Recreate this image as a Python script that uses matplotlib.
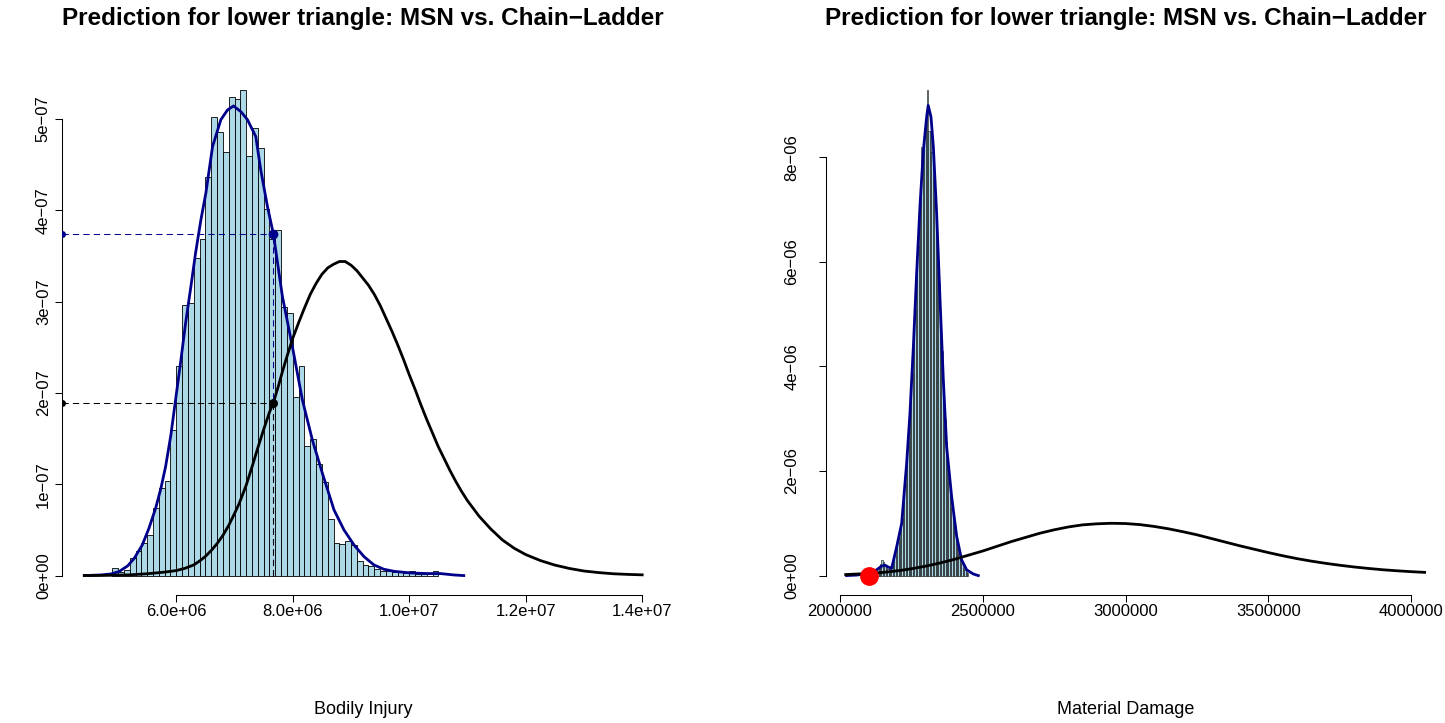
import numpy as np
import matplotlib
matplotlib.use("Agg")
import matplotlib.pyplot as plt

plt.rcParams['font.family'] = ['Liberation Sans', 'DejaVu Sans']

MINUS = '\u2212'
title = 'Prediction for lower triangle: MSN vs. Chain' + MINUS + 'Ladder'

# ---- Bodily Injury (left panel) ----
bi_bin_start = 4.9e6
bi_bin_width = 1e5
# histogram density, in 1e-8
bi_hist = [0.8, 0.4, 0.6, 1.9, 2.7, 3.6, 4.4, 7.4, 9.6, 10.4,
           16.0, 23.0, 29.6, 29.9, 34.8, 36.9, 43.7, 50.2, 48.6, 46.4,
           52.4, 52.2, 53.2, 46.0, 49.0, 46.8, 40.2, 36.9, 37.8, 29.4,
           28.8, 19.6, 23.0, 14.2, 15.0, 12.2, 10.2, 6.2, 3.6, 3.5,
           3.8, 3.4, 1.6, 1.2, 1.0, 0.7, 0.55, 0.5, 0.35, 0.45,
           0.3, 0.45, 0.15, 0.15, 0.0, 0.45]
# MSN kernel density (x in 1e6, y in 1e-8)
bi_msn_x = [4.420, 4.706, 4.879, 5.016, 5.165, 5.279, 5.416, 5.530, 5.645, 5.736,
            5.816, 5.907, 5.987, 6.079, 6.159, 6.250, 6.330, 6.422, 6.507, 6.622,
            6.765, 6.879, 6.982, 7.108, 7.222, 7.365, 7.450, 7.565, 7.667, 7.822,
            7.993, 8.165, 8.336, 8.508, 8.708, 8.879, 9.051, 9.222, 9.393, 9.565,
            9.736, 10.022, 10.308, 10.536, 10.765, 10.936]
bi_msn_y = [0.0, 0.07, 0.18, 0.44, 1.06, 1.90, 3.36, 5.18, 7.38, 9.57,
            11.94, 15.41, 19.24, 23.62, 27.64, 31.65, 35.31, 38.96, 41.88, 46.99,
            49.93, 51.00, 51.44, 50.82, 49.93, 48.08, 44.43, 40.42, 37.39, 30.56,
            25.08, 19.24, 14.86, 11.21, 7.19, 5.00, 3.36, 2.08, 1.17, 0.69,
            0.47, 0.29, 0.22, 0.22, 0.07, 0.0]
# Chain-Ladder density (x in 1e6, y in 1e-8)
bi_cl_x = [4.42, 4.8, 5.2, 5.5, 5.8, 6.0, 6.15, 6.3, 6.4, 6.5,
           6.6, 6.7, 6.8, 6.9, 7.0, 7.08, 7.2, 7.3, 7.4, 7.5,
           7.6, 7.667, 7.75, 7.82, 7.9, 8.0, 8.1, 8.2, 8.3, 8.4,
           8.5, 8.6, 8.7, 8.8, 8.9, 9.0, 9.1, 9.2, 9.3, 9.4,
           9.5, 9.6, 9.7, 9.8, 9.9, 10.0, 10.1, 10.2, 10.3, 10.4,
           10.5, 10.6, 10.7, 10.8, 10.9, 11.0, 11.2, 11.4, 11.6, 11.8,
           12.0, 12.25, 12.5, 12.75, 13.0, 13.25, 13.5, 13.75, 14.0]
bi_cl_y = [0.0, 0.02, 0.08, 0.2, 0.38, 0.55, 0.8, 1.17, 1.6, 2.1,
           2.75, 3.5, 4.4, 5.5, 6.8, 7.9, 9.9, 11.9, 14.0, 16.0,
           17.9, 18.95, 20.7, 22.3, 24.0, 26.0, 27.7, 29.3, 30.8, 32.0,
           33.0, 33.7, 34.1, 34.4, 34.4, 34.0, 33.4, 32.6, 31.8, 30.8,
           29.6, 28.2, 26.8, 25.3, 23.7, 22.0, 20.4, 18.7, 17.1, 15.6,
           14.1, 12.8, 11.5, 10.3, 9.2, 8.2, 6.5, 5.1, 3.9, 3.0,
           2.3, 1.65, 1.15, 0.78, 0.5, 0.33, 0.2, 0.13, 0.08]
bi_obs = 7.667e6
bi_obs_msn = 3.739e-7
bi_obs_cl = 1.895e-7

# ---- Material Damage (right panel) ----
md_bin_start = 2.125e6
md_bin_width = 5e3
# histogram density, in 1e-6
md_hist = [0.10, 0.13, 0.18, 0.22, 0.30, 0.26, 0.20, 0.16, 0.13, 0.12,
           0.18, 0.22, 0.32, 0.40, 0.55, 0.64, 0.72, 0.90, 1.10, 1.45,
           1.75, 2.10, 2.55, 2.95, 3.45, 3.85, 4.45, 5.10, 5.75, 6.30,
           6.85, 7.45, 8.20, 8.20, 8.55, 8.70, 9.29, 8.50, 8.50, 8.10,
           7.60, 7.20, 6.95, 6.00, 5.60, 4.80, 4.30, 3.50, 3.00, 2.55,
           2.10, 1.85, 1.55, 1.30, 1.10, 0.95, 0.75, 0.55, 0.42, 0.30,
           0.22, 0.15, 0.10, 0.06, 0.04]
md_msn_x = [2.023, 2.06, 2.10, 2.1285, 2.145, 2.1576, 2.17, 2.181, 2.1985, 2.216,
            2.2335, 2.245, 2.257, 2.2685, 2.280, 2.292, 2.3035, 2.309, 2.3187, 2.327,
            2.3386, 2.350, 2.362, 2.3736, 2.391, 2.4087, 2.426, 2.4437, 2.467, 2.4845]
md_msn_y = [0.0, 0.01, 0.05, 0.11, 0.18, 0.20, 0.16, 0.14, 0.55, 1.00,
            2.15, 3.10, 4.38, 5.78, 7.05, 8.13, 8.77, 8.99, 8.77, 8.20,
            6.92, 5.33, 3.74, 2.46, 1.51, 0.75, 0.30, 0.11, 0.03, 0.0]
md_cl_x = [2.02, 2.1, 2.15, 2.2, 2.25, 2.3, 2.35, 2.4, 2.45, 2.5,
           2.55, 2.6, 2.65, 2.7, 2.75, 2.8, 2.85, 2.9, 2.95, 3.0,
           3.05, 3.1, 3.15, 3.2, 3.25, 3.3, 3.35, 3.4, 3.45, 3.5,
           3.55, 3.6, 3.65, 3.7, 3.75, 3.8, 3.85, 3.9, 3.95, 4.0,
           4.05, 4.1, 4.15, 4.2]
md_cl_y = [0.02, 0.04, 0.06, 0.09, 0.13, 0.18, 0.24, 0.31, 0.39, 0.47,
           0.56, 0.65, 0.73, 0.81, 0.875, 0.93, 0.97, 0.99, 1.0, 0.995,
           0.975, 0.94, 0.895, 0.84, 0.78, 0.71, 0.64, 0.57, 0.505, 0.44,
           0.38, 0.325, 0.277, 0.235, 0.198, 0.165, 0.137, 0.112, 0.092, 0.075,
           0.061, 0.049, 0.039, 0.031]
md_obs = 2.1e6

W, H = 1445, 723
fig = plt.figure(figsize=(W / 100, H / 100), dpi=100)


def axes_px(left, top, right, bottom):
    return fig.add_axes([left / W, 1 - bottom / H, (right - left) / W, (bottom - top) / H])


def r_axes(ax, xt, xl, yt, yl, ypad=3):
    for s in ['top', 'right']:
        ax.spines[s].set_visible(False)
    for s in ['left', 'bottom']:
        ax.spines[s].set_linewidth(0.75)
    ax.spines['left'].set_bounds(yt[0], yt[-1])
    ax.spines['bottom'].set_bounds(xt[0], xt[-1])
    ax.set_xticks(xt)
    ax.set_xticklabels(xl)
    ax.set_yticks(yt)
    ax.set_yticklabels(yl, rotation=90, va='center')
    ax.tick_params(length=5, width=0.75, labelsize=12)
    ax.tick_params(axis='x', pad=1.5)
    ax.tick_params(axis='y', pad=ypad)


blue = '#00008B'
dash = (0, (6, 4))

# left panel
ax1 = axes_px(62, 70.7, 664.5, 595)
bi_edges = bi_bin_start + bi_bin_width * np.arange(len(bi_hist))
ax1.bar(bi_edges, np.array(bi_hist) * 1e-8, width=bi_bin_width, align='edge',
        color='#ADD8E6', edgecolor='black', linewidth=0.6, zorder=1)
ax1.plot(np.array(bi_msn_x) * 1e6, np.array(bi_msn_y) * 1e-8, color=blue, lw=2, zorder=3)
ax1.plot(np.array(bi_cl_x) * 1e6, np.array(bi_cl_y) * 1e-8, color='black', lw=2, zorder=3)
ax1.set_xlim(4.037e6, 14.383e6)
ax1.set_ylim(-0.2127e-7, 5.530e-7)
x0 = ax1.get_xlim()[0]
ax1.plot([x0, bi_obs], [bi_obs_msn, bi_obs_msn], color=blue, lw=0.75, ls=dash, zorder=4)
ax1.plot([x0, bi_obs], [bi_obs_cl, bi_obs_cl], color='black', lw=0.75, ls=dash, zorder=4)
ax1.plot([bi_obs, bi_obs], [0, bi_obs_msn], color=blue, lw=0.75, ls=dash, zorder=4)
ax1.plot([bi_obs, bi_obs], [0, bi_obs_cl], color='black', lw=0.75, ls=dash, zorder=4)
ax1.plot(bi_obs, bi_obs_msn, 'o', color=blue, ms=6, zorder=5)
ax1.plot(bi_obs, bi_obs_cl, 'o', color='black', ms=5.5, zorder=5)
ax1.plot(x0, bi_obs_msn, 'o', color=blue, ms=4, zorder=5)
ax1.plot(x0, bi_obs_cl, 'o', color='black', ms=4, zorder=5)
r_axes(ax1, [6e6, 8e6, 1e7, 1.2e7, 1.4e7],
       ['6.0e+06', '8.0e+06', '1.0e+07', '1.2e+07', '1.4e+07'],
       [0, 1e-7, 2e-7, 3e-7, 4e-7, 5e-7],
       ['0e+00', '1e' + MINUS + '07', '2e' + MINUS + '07', '3e' + MINUS + '07',
        '4e' + MINUS + '07', '5e' + MINUS + '07'])

# right panel
ax2 = axes_px(826, 70.7, 1426, 595)
md_edges = md_bin_start + md_bin_width * np.arange(len(md_hist))
ax2.bar(md_edges, np.array(md_hist) * 1e-6, width=md_bin_width, align='edge',
        color='#ADD8E6', edgecolor='black', linewidth=0.4, zorder=1)
ax2.plot(np.array(md_msn_x) * 1e6, np.array(md_msn_y) * 1e-6, color=blue, lw=2, zorder=3)
ax2.plot(np.array(md_cl_x) * 1e6, np.array(md_cl_y) * 1e-6, color='black', lw=2, zorder=3)
ax2.plot(md_obs, 0, 'o', color='red', ms=12.5, clip_on=False, zorder=6)
ax2.set_xlim(1.951e6, 4.0525e6)
ax2.set_ylim(-0.3713e-6, 9.654e-6)
r_axes(ax2, [2e6, 2.5e6, 3e6, 3.5e6, 4e6],
       ['2000000', '2500000', '3000000', '3500000', '4000000'],
       [0, 2e-6, 4e-6, 6e-6, 8e-6],
       ['0e+00', '2e' + MINUS + '06', '4e' + MINUS + '06', '6e' + MINUS + '06', '8e' + MINUS + '06'],
       ypad=14)

for cx, lab in [(363, 'Bodily Injury'), (1126, 'Material Damage')]:
    fig.text(cx / W, 1 - 18 / H, title, ha='center', va='center', fontsize=17.5, fontweight='bold')
    fig.text(cx / W, 1 - 710 / H, lab, ha='center', va='center', fontsize=13)

fig.savefig('out.png', dpi=100)
